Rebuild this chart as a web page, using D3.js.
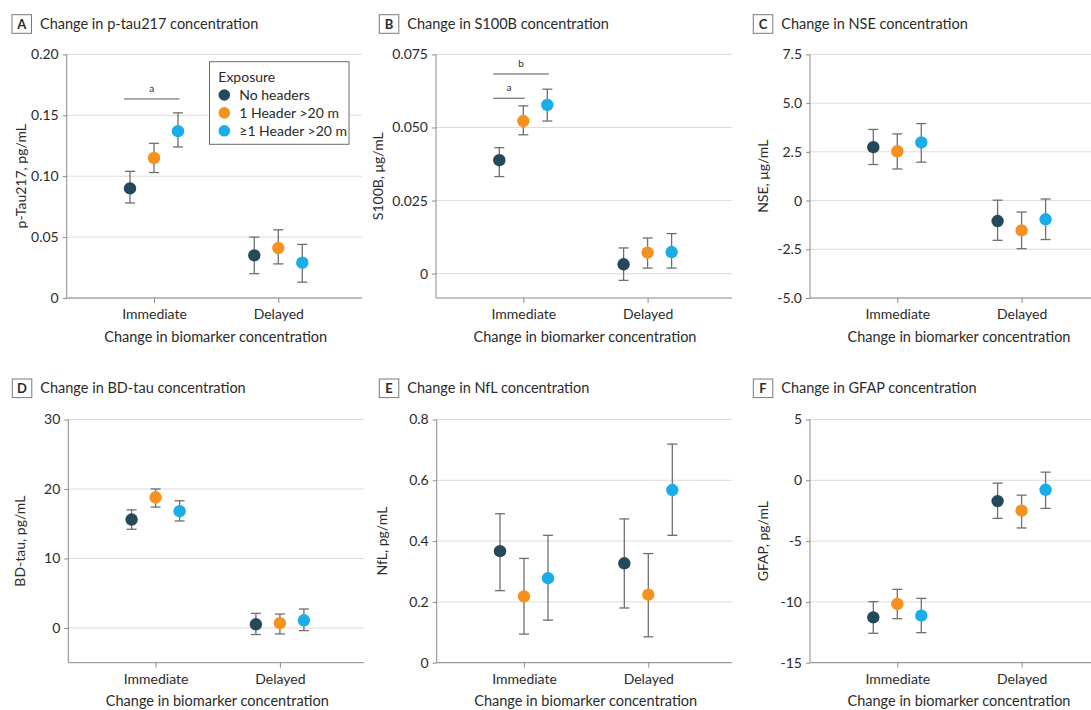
<!DOCTYPE html>
<html><head><meta charset="utf-8">
<script src="https://cdn.jsdelivr.net/npm/d3@7"></script>
<style>
html,body{margin:0;padding:0;background:#fff;}
svg{display:block;font-family:Lato,"Open Sans",sans-serif;}
</style></head>
<body>
<svg id="chart" width="1091" height="710"></svg>
<script>
// ---------------- DATA ----------------
const groups = ["No headers", "1 Header >20 m", "≥1 Header >20 m"];
const timepoints = ["Immediate", "Delayed"];
const groupColors = ["#24495a", "#f5911f", "#19aee9"];
const panelLetters = ["A", "B", "C", "D", "E", "F"];
const panelTitles = ["Change in p-tau217 concentration", "Change in S100B concentration", "Change in NSE concentration",
  "Change in BD-tau concentration", "Change in NfL concentration", "Change in GFAP concentration"];
const yLabels = ["p-Tau217, pg/mL", "S100B, μg/mL", "NSE, μg/mL", "BD-tau, pg/mL", "NfL, pg/mL", "GFAP, pg/mL"];
const xLabel = "Change in biomarker concentration";
const legendTitle = "Exposure";

// order per array: [Immediate: No, 1, ≥1], [Delayed: No, 1, ≥1]
const ptauMean  = [[0.090, 0.115, 0.137], [0.035, 0.041, 0.029]];
const ptauLow   = [[0.078, 0.103, 0.124], [0.020, 0.028, 0.013]];
const ptauHigh  = [[0.104, 0.127, 0.152], [0.050, 0.056, 0.044]];

const s100Mean  = [[0.0388, 0.0522, 0.0577], [0.0032, 0.0072, 0.0074]];
const s100Low   = [[0.0332, 0.0475, 0.0522], [-0.0023, 0.0019, 0.0019]];
const s100High  = [[0.0431, 0.0574, 0.0631], [0.0088, 0.0122, 0.0137]];

const nseMean   = [[2.74, 2.53, 2.98], [-1.05, -1.53, -0.96]];
const nseLow    = [[1.85, 1.62, 1.97], [-2.04, -2.47, -2.00]];
const nseHigh   = [[3.65, 3.42, 3.95], [0.02, -0.59, 0.08]];

const bdtauMean = [[15.6, 18.8, 16.8], [0.53, 0.68, 1.10]];
const bdtauLow  = [[14.2, 17.4, 15.4], [-0.95, -0.86, -0.38]];
const bdtauHigh = [[17.0, 20.0, 18.3], [2.10, 2.00, 2.73]];

const nflMean   = [[0.367, 0.218, 0.278], [0.327, 0.224, 0.568]];
const nflLow    = [[0.237, 0.094, 0.140], [0.180, 0.085, 0.419]];
const nflHigh   = [[0.490, 0.343, 0.419], [0.473, 0.359, 0.719]];

const gfapMean  = [[-11.27, -10.17, -11.13], [-1.71, -2.50, -0.78]];
const gfapLow   = [[-12.58, -11.38, -12.53], [-3.13, -3.92, -2.31]];
const gfapHigh  = [[-9.98, -8.97, -9.71], [-0.23, -1.22, 0.67]];

const yDomains = [[0, 0.2], [-0.00833, 0.075], [-5, 7.5], [-5, 30], [0, 0.8], [-15, 5]];
const yTicks = [[0, 0.05, 0.10, 0.15, 0.20], [0, 0.025, 0.050, 0.075], [-5, -2.5, 0, 2.5, 5, 7.5],
  [0, 10, 20, 30], [0, 0.2, 0.4, 0.6, 0.8], [-15, -10, -5, 0, 5]];
const yTickLabels = [["0", "0.05", "0.10", "0.15", "0.20"], ["0", "0.025", "0.050", "0.075"],
  ["-5.0", "-2.5", "0", "2.5", "5.0", "7.5"], ["0", "10", "20", "30"], ["0", "0.2", "0.4", "0.6", "0.8"],
  ["-15", "-10", "-5", "0", "5"]];

// significance brackets: panel index, timepoint, from group, to group, y value, letter
const sigPanel = [0, 1, 1];
const sigFrom = [0, 0, 0];
const sigTo = [2, 1, 2];
const sigY = [0.1634, 0.0600, 0.0683];
const sigLetter = ["a", "a", "b"];

const means = [ptauMean, s100Mean, nseMean, bdtauMean, nflMean, gfapMean];
const lows = [ptauLow, s100Low, nseLow, bdtauLow, nflLow, gfapLow];
const highs = [ptauHigh, s100High, nseHigh, bdtauHigh, nflHigh, gfapHigh];

// ---------------- LAYOUT ----------------
const layout = [
  {ax: 66.7, right: 362, top: 54.4, bottom: 298, boxX: 12, titleY: 24, ylabX: 21},
  {ax: 436, right: 732, top: 54.4, bottom: 298, boxX: 379.3, titleY: 24, ylabX: 378.3},
  {ax: 810, right: 1106, top: 54.4, bottom: 298, boxX: 753.3, titleY: 24, ylabX: 763.3},
  {ax: 68.3, right: 364, top: 419.5, bottom: 662.7, boxX: 12.3, titleY: 388.3, ylabX: 20},
  {ax: 436.7, right: 732, top: 419.5, bottom: 662.7, boxX: 379.3, titleY: 388.3, ylabX: 381.7},
  {ax: 810, right: 1106, top: 419.5, bottom: 662.7, boxX: 753.3, titleY: 388.3, ylabX: 763.3}
];

const svg = d3.select("#chart");
const txt = "#2b2b2b";
const axisCol = "#8a8a8a";
const gridCol = "#dcdcdc";
const barCol = "#6f6f6f";
const off = d3.scalePoint().domain(groups).range([-24, 24]);

layout.forEach((L, p) => {
  const g = svg.append("g");
  const y = d3.scaleLinear().domain(yDomains[p]).range([L.bottom, L.top]);
  const x = d3.scalePoint().domain(timepoints).range([L.ax + 87.3, L.ax + 211.6]);

  // title
  g.append("rect").attr("x", L.boxX).attr("y", L.titleY - 9.3).attr("width", 19.5).attr("height", 18.6)
    .attr("fill", "#fff").attr("stroke", "#7a7a7a").attr("stroke-width", 1);
  g.append("text").attr("x", L.boxX + 9.75).attr("y", L.titleY + 5).attr("text-anchor", "middle")
    .attr("font-size", 13).attr("font-weight", 700).attr("fill", txt).text(panelLetters[p]);
  g.append("text").attr("x", L.boxX + 28).attr("y", L.titleY + 5).attr("font-size", 14.5)
    .attr("fill", txt).text(panelTitles[p]);

  // gridlines
  g.append("g").selectAll("line").data(yTicks[p]).join("line")
    .attr("x1", L.ax).attr("x2", L.right).attr("y1", d => y(d)).attr("y2", d => y(d))
    .attr("stroke", gridCol).attr("stroke-width", 1);

  // y axis
  const yAxis = d3.axisLeft(y).tickValues(yTicks[p]).tickSize(4).tickPadding(4)
    .tickFormat((d, i) => yTickLabels[p][i]);
  const ya = g.append("g").attr("transform", `translate(${L.ax},0)`).call(yAxis);
  ya.select(".domain").attr("stroke", axisCol).attr("d", `M-0,${L.top}V${L.bottom}`);
  ya.selectAll(".tick line").attr("stroke", axisCol);
  ya.selectAll(".tick text").attr("font-size", 14).attr("fill", txt).attr("font-family", "Lato,sans-serif");

  // x axis
  const xAxis = d3.axisBottom(x).tickSize(5).tickPadding(6);
  const xa = g.append("g").attr("transform", `translate(0,${L.bottom})`).call(xAxis);
  xa.select(".domain").attr("stroke", axisCol).attr("d", `M${L.ax},0H${L.right}`);
  xa.selectAll(".tick line").attr("stroke", axisCol);
  xa.selectAll(".tick text").attr("font-size", 14).attr("fill", txt).attr("font-family", "Lato,sans-serif");

  // axis titles
  g.append("text").attr("x", (L.ax + Math.min(L.right, 1091 + 70)) / 2 + 0).attr("y", L.bottom + 43.5)
    .attr("text-anchor", "middle").attr("font-size", 14.5).attr("fill", txt).text(xLabel)
    .attr("x", L.ax + 149);
  g.append("text").attr("transform", `translate(${L.ylabX},${(L.top + L.bottom) / 2}) rotate(-90)`)
    .attr("text-anchor", "middle").attr("dy", "0.35em").attr("font-size", 14).attr("fill", txt).text(yLabels[p]);

  // points
  const pts = [];
  timepoints.forEach((t, ti) => groups.forEach((gr, gi) => {
    pts.push({t, gr, gi, m: means[p][ti][gi], lo: lows[p][ti][gi], hi: highs[p][ti][gi]});
  }));
  const pg = g.append("g").selectAll("g").data(pts).join("g")
    .attr("transform", d => `translate(${x(d.t) + off(d.gr)},0)`);
  pg.append("line").attr("y1", d => y(d.lo)).attr("y2", d => y(d.hi)).attr("stroke", barCol).attr("stroke-width", 1.3);
  pg.append("line").attr("x1", -5).attr("x2", 5).attr("y1", d => y(d.lo)).attr("y2", d => y(d.lo)).attr("stroke", barCol).attr("stroke-width", 1.3);
  pg.append("line").attr("x1", -5).attr("x2", 5).attr("y1", d => y(d.hi)).attr("y2", d => y(d.hi)).attr("stroke", barCol).attr("stroke-width", 1.3);
  pg.append("circle").attr("cy", d => y(d.m)).attr("r", 6.2).attr("fill", d => groupColors[d.gi]);

  // significance brackets
  sigPanel.forEach((sp, si) => {
    if (sp !== p) return;
    const xa0 = x(timepoints[0]) + off(groups[sigFrom[si]]) - 6;
    const xa1 = x(timepoints[0]) + off(groups[sigTo[si]]) + 1.5;
    g.append("line").attr("x1", xa0).attr("x2", xa1).attr("y1", y(sigY[si])).attr("y2", y(sigY[si]))
      .attr("stroke", "#555").attr("stroke-width", 1);
    g.append("text").attr("x", (xa0 + xa1) / 2).attr("y", y(sigY[si]) - 7).attr("text-anchor", "middle")
      .attr("font-size", 10).attr("fill", txt).text(sigLetter[si]);
  });

  // legend in panel A
  if (p === 0) {
    const lg = g.append("g");
    lg.append("rect").attr("x", 209.5).attr("y", 61.7).attr("width", 139.5).attr("height", 82.6)
      .attr("fill", "#fff").attr("stroke", "#6a6a6a").attr("stroke-width", 1);
    lg.append("text").attr("x", 218.3).attr("y", 82).attr("font-size", 14).attr("fill", txt).text(legendTitle);
    groups.forEach((gr, gi) => {
      const cy = 95 + gi * 17.9;
      lg.append("circle").attr("cx", 224.3).attr("cy", cy).attr("r", 5.8).attr("fill", groupColors[gi]);
      lg.append("text").attr("x", 239.3).attr("y", cy + 5).attr("font-size", 14).attr("fill", txt).text(gr);
    });
  }
});
</script>
</body></html>
